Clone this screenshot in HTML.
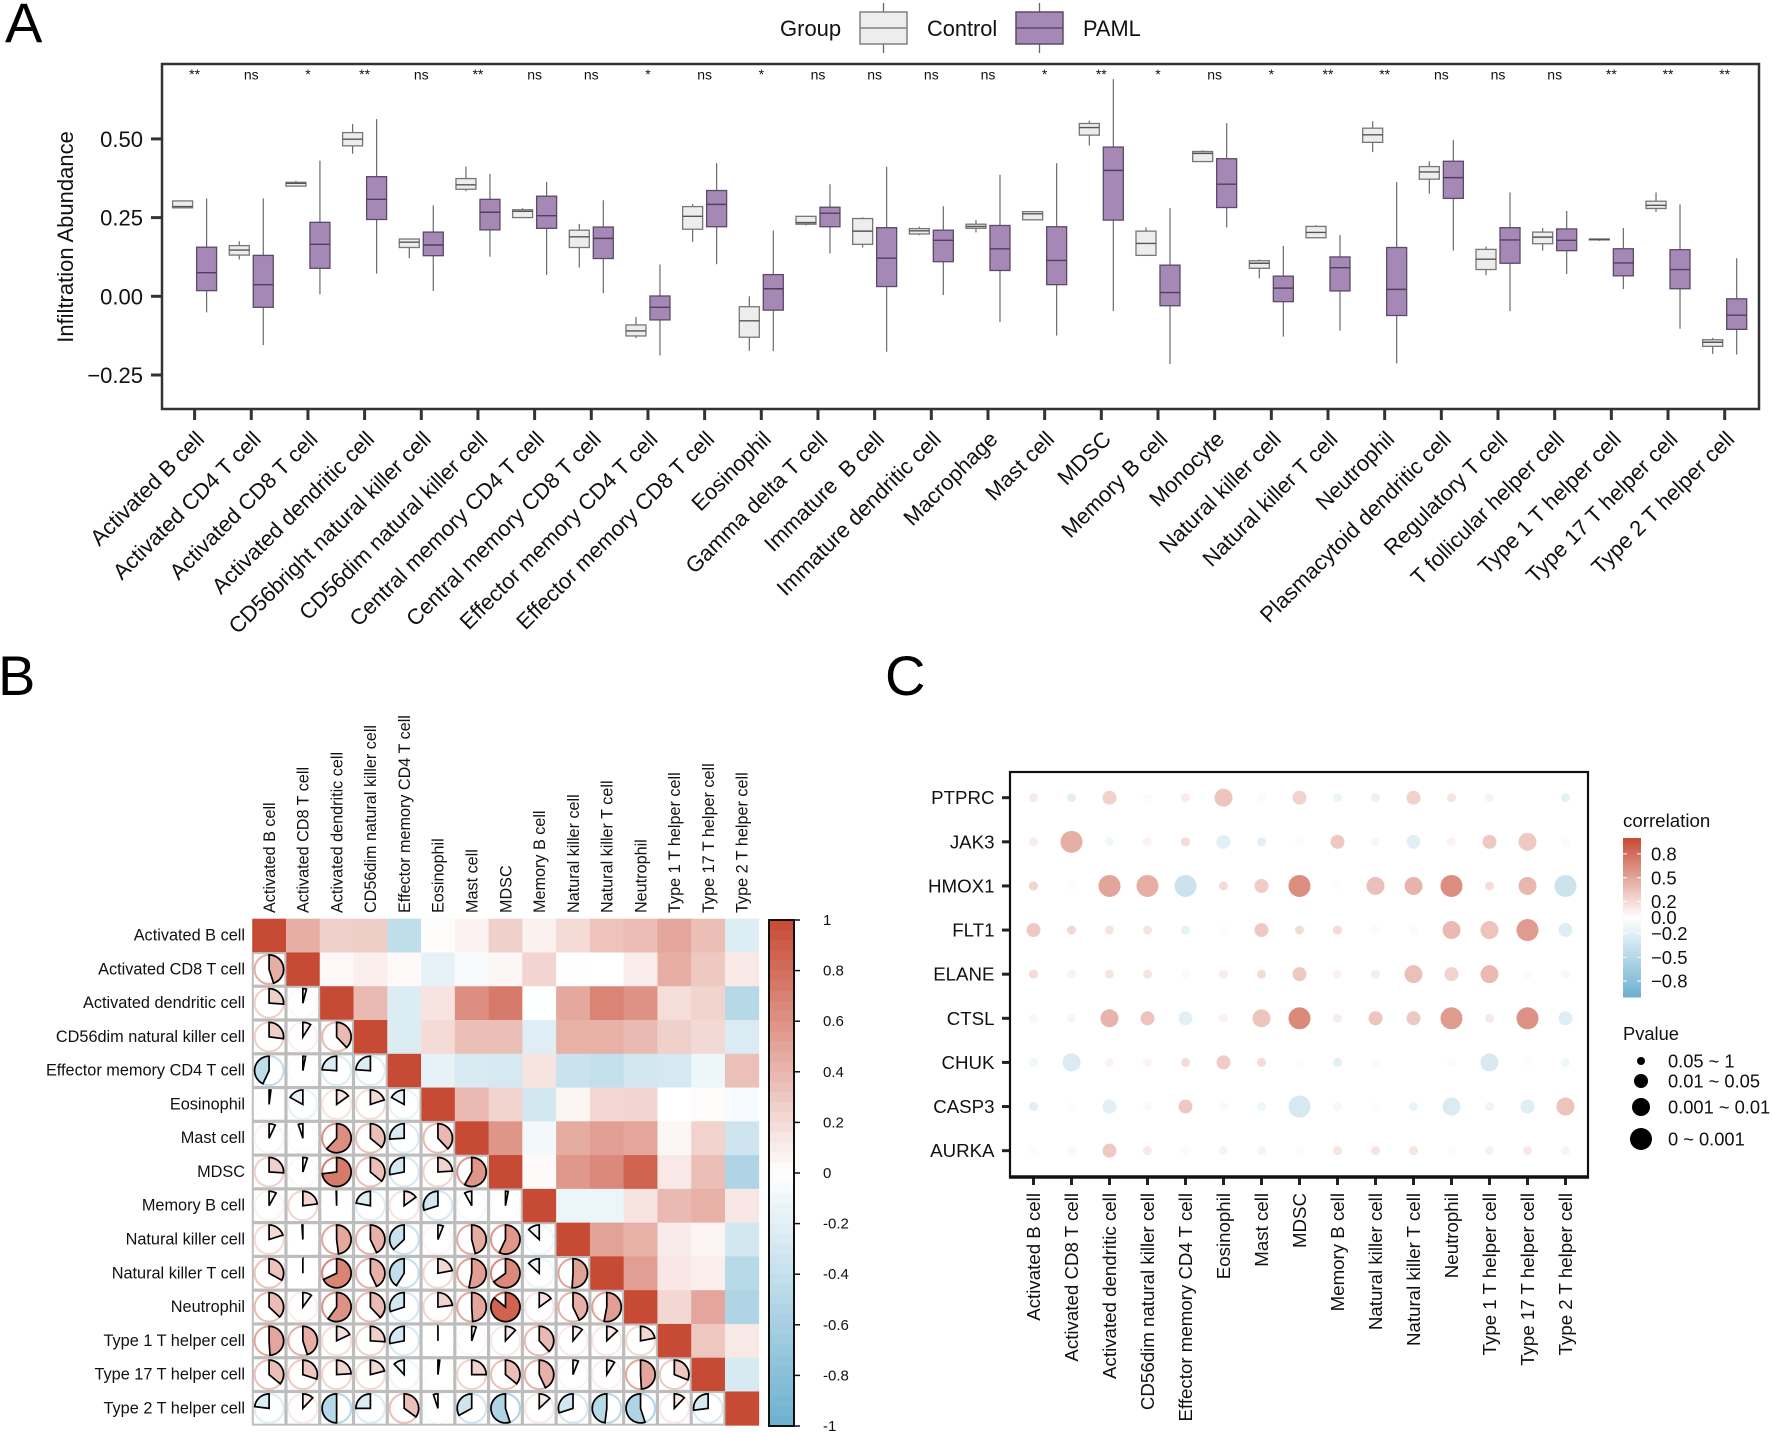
<!DOCTYPE html>
<html lang="en">
<head>
<meta charset="utf-8">
<title>Immune infiltration figure</title>
<style>
html,body{margin:0;padding:0;background:#fff;}
svg{display:block;font-family:"Liberation Sans",Arial,sans-serif;}
</style>
</head>
<body>
<svg id="fig" xmlns="http://www.w3.org/2000/svg" width="1772" height="1434" viewBox="0 0 1772 1434"></svg>
<script>
/* ---------- Panel A data ---------- */
const cellTypes = ["Activated B cell","Activated CD4 T cell","Activated CD8 T cell","Activated dendritic cell","CD56bright natural killer cell","CD56dim natural killer cell","Central memory CD4 T cell","Central memory CD8 T cell","Effector memory CD4 T cell","Effector memory CD8 T cell","Eosinophil","Gamma delta T cell","Immature\u00A0 B cell","Immature dendritic cell","Macrophage","Mast cell","MDSC","Memory B cell","Monocyte","Natural killer cell","Natural killer T cell","Neutrophil","Plasmacytoid dendritic cell","Regulatory T cell","T follicular helper cell","Type 1 T helper cell","Type 17 T helper cell","Type 2 T helper cell"];
const significance = ["**","ns","*","**","ns","**","ns","ns","*","ns","*","ns","ns","ns","ns","*","**","*","ns","*","**","**","ns","ns","ns","**","**","**"];
/* each entry: upper whisker, q3, median, q1, lower whisker */
const controlBoxes = [
[.303,.303,.285,.281,.281],[.175,.161,.147,.131,.117],[.367,.362,.359,.350,.350],[.547,.520,.499,.478,.453],
[.183,.182,.172,.155,.121],[.412,.374,.354,.340,.334],[.280,.275,.270,.250,.250],[.230,.210,.189,.155,.091],
[-.066,-.091,-.110,-.126,-.133],[.293,.285,.254,.213,.173],[0,-.033,-.078,-.130,-.173],[.254,.254,.234,.229,.225],
[.251,.247,.207,.165,.155],[.221,.215,.208,.198,.194],[.242,.229,.222,.216,.203],[.271,.269,.262,.243,.243],
[.558,.549,.536,.512,.479],[.219,.207,.168,.130,.128],[.464,.460,.454,.428,.428],[.117,.113,.105,.089,.057],
[.226,.222,.203,.186,.186],[.556,.534,.513,.489,.458],[.429,.412,.395,.372,.326],[.158,.149,.118,.085,.067],
[.217,.204,.188,.167,.145],[.184,.182,.181,.179,.176],[.330,.302,.289,.279,.268],[-.132,-.138,-.146,-.159,-.183]];
const pamlBoxes = [
[.311,.156,.075,.018,-.051],[.311,.130,.037,-.035,-.155],[.431,.235,.165,.089,.006],[.563,.380,.308,.244,.072],
[.289,.204,.163,.129,.017],[.389,.308,.267,.211,.126],[.363,.318,.256,.216,.068],[.305,.220,.184,.120,.010],
[.101,.001,-.035,-.075,-.188],[.423,.336,.292,.221,.102],[.209,.069,.024,-.044,-.174],[.356,.283,.264,.221,.136],
[.411,.218,.121,.031,-.176],[.286,.210,.178,.110,.004],[.386,.225,.151,.082,-.082],[.423,.221,.114,.037,-.125],
[.690,.474,.400,.242,-.047],[.280,.099,.012,-.030,-.215],[.550,.437,.356,.282,.219],[.160,.064,.026,-.017,-.128],
[.195,.125,.091,.017,-.109],[.363,.155,.022,-.061,-.213],[.496,.429,.377,.311,.145],[.330,.218,.179,.105,-.047],
[.271,.214,.178,.145,.071],[.217,.151,.106,.065,.023],[.292,.148,.085,.024,-.103],[.121,-.008,-.060,-.105,-.185]];
const yTicksA = [0.5,0.25,0,-0.25];
const yTickLabelsA = ["0.50","0.25","0.00","\u22120.25"];

/* ---------- Panel B data ---------- */
const corrLabels = ["Activated B cell","Activated CD8 T cell","Activated dendritic cell","CD56dim natural killer cell","Effector memory CD4 T cell","Eosinophil","Mast cell","MDSC","Memory B cell","Natural killer cell","Natural killer T cell","Neutrophil","Type 1 T helper cell","Type 17 T helper cell","Type 2 T helper cell"];
/* lower triangle of correlation matrix, row by row */
const corrLower = [
[],
[.45],
[.26,.04],
[.27,.09,.38],
[-.43,.03,-.24,-.24],
[.02,-.17,.15,.2,-.17],
[.07,-.05,.62,.36,-.26,.38],
[.26,.05,.73,.36,-.28,.24,.58],
[.08,.23,-.005,-.22,.15,-.3,-.08,.03],
[.2,-.01,.48,.43,-.37,.06,.46,.57,-.13],
[.33,0,.68,.43,-.41,.22,.53,.65,-.13,.51],
[.37,.1,.6,.38,-.3,.23,.49,.86,.15,.43,.53],
[.49,.45,.18,.26,-.28,0,.05,.12,.38,.11,.13,.22],
[.36,.3,.24,.21,-.12,.02,.25,.36,.43,.06,.09,.49,.31],
[-.23,.12,-.5,-.25,.35,-.05,-.33,-.55,.13,-.3,-.48,-.55,.12,-.27]];
const colorbarTicksB = [1,.8,.6,.4,.2,0,-.2,-.4,-.6,-.8,-1];
const colorbarLabelsB = ["1","0.8","0.6","0.4","0.2","0","-0.2","-0.4","-0.6","-0.8","-1"];

/* ---------- Panel C data ---------- */
const genes = ["PTPRC","JAK3","HMOX1","FLT1","ELANE","CTSL","CHUK","CASP3","AURKA"];
const geneCorr = [
[.12,-.2,.25,-.04,.1,.32,.03,.25,-.13,.1,.25,.15,-.1,0,-.18],
[.1,.45,-.1,.08,.2,-.2,-.2,.02,.3,-.08,-.2,.08,.3,.3,.03],
[.25,-.03,.5,.45,-.35,.2,.28,.62,-.03,.35,.42,.62,.18,.4,-.35],
[.3,.22,.15,.15,-.17,.01,.3,.2,.2,.03,.03,.38,.33,.55,-.22],
[.2,.07,.15,.15,-.04,.1,.2,.3,.08,.1,.35,.25,.38,-.04,-.07],
[.05,.06,.42,.33,-.2,.08,.32,.65,.1,.32,.3,.55,.13,.6,-.22],
[-.1,-.25,.07,.06,.2,.28,.2,.01,-.2,.03,0,-.04,-.27,-.02,-.1],
[-.2,-.02,-.2,-.06,.3,-.05,-.12,-.28,-.08,-.03,-.14,-.25,-.13,-.22,.33],
[.02,-.06,.3,.12,-.04,-.1,.08,.02,.15,.15,.15,.02,-.13,.13,-.1]];
/* p-value class: 0 = 0.05~1, 1 = 0.01~0.05, 2 = 0.001~0.01, 3 = 0~0.001 */
const genePClass = [
[0,0,1,0,0,2,0,1,0,0,1,0,0,0,0],
[0,3,0,0,0,1,0,0,1,0,1,0,1,2,0],
[0,0,3,3,3,0,1,3,0,2,2,3,0,2,3],
[1,0,0,0,0,0,1,0,0,0,0,2,2,3,1],
[0,0,0,0,0,0,0,1,0,0,2,1,2,0,0],
[0,0,2,1,1,0,2,3,0,1,1,3,0,3,1],
[0,2,0,0,0,1,0,0,0,0,0,0,2,0,0],
[0,0,1,0,1,0,0,3,0,0,0,2,0,1,2],
[0,0,1,0,0,0,0,0,0,0,0,0,0,0,0]];
const pLegendLabels = ["0.05 ~ 1","0.01 ~ 0.05","0.001 ~ 0.01","0 ~ 0.001"];
const pClassDiameters = [9,14,18,22];
const pLegendDiameters = [8,14,18,22];
const colorbarTicksC = [.8,.5,.2,0,-.2,-.5,-.8];
const colorbarLabelsC = ["0.8","0.5","0.2","0.0","\u22120.2","\u22120.5","\u22120.8"];

/* ---------- helpers ---------- */
const svg = document.getElementById('fig');
const NS = 'http://www.w3.org/2000/svg';
function mk(tag, attrs, parent){
  const e = document.createElementNS(NS, tag);
  for (const k in attrs) e.setAttribute(k, attrs[k]);
  (parent || svg).appendChild(e);
  return e;
}
function txt(str, attrs, parent){
  const e = mk('text', attrs, parent);
  e.textContent = str;
  return e;
}
function mix(a,b,t){return a.map((v,i)=>Math.round(v+(b[i]-v)*t));}
function corrColor(r){
  const red=[199,74,52], blue=[108,176,207], white=[255,255,255];
  const c = r>=0 ? mix(white,red,Math.min(1,r)) : mix(white,blue,Math.min(1,-r));
  return 'rgb('+c.join(',')+')';
}

/* ---------- panel letters ---------- */
[["A",5,42,"panel-a-letter"],["B",-2,695,"panel-b-letter"],["C",885,695,"panel-c-letter"]].forEach(p=>{
  const el = txt(p[0],{x:p[1],y:p[2],'font-size':56,fill:'#000'});
  
  
});

/* ---------- Panel A ---------- */
const gA = mk('g',{});


const aL=162,aR=1759,aT=64,aB=409;
const yA = v => 296.3 - 314.8*v;
const xA = i => 194.6 + 56.67*i;

function drawBox(cx, s, fill, edge, medC, g, name){
  const w=20;
  const grp = mk('g',{},g);
  
  
  mk('line',{x1:cx,x2:cx,y1:yA(s[0]),y2:yA(s[4]),stroke:'#6a6a6a','stroke-width':1.2},grp);
  mk('rect',{x:cx-w/2,y:yA(s[1]),width:w,height:Math.max(.5,yA(s[3])-yA(s[1])),fill:fill,stroke:edge,'stroke-width':1.3},grp);
  mk('line',{x1:cx-w/2,x2:cx+w/2,y1:yA(s[2]),y2:yA(s[2]),stroke:medC,'stroke-width':1.4},grp);
}
cellTypes.forEach((c,i)=>{
  const x=xA(i);
  drawBox(x-12,controlBoxes[i],'#ededed','#777','#555',gA,'control-box');
  drawBox(x+12,pamlBoxes[i],'#a588b5','#5b4a68','#4f4059',gA,'paml-box');
  const sig = txt(significance[i],{x:x,y:significance[i]==='ns'?79.5:79,'font-size':14,'text-anchor':'middle',fill:'#111'},gA);
  
  
  const t = mk('line',{x1:x,x2:x,y1:aB,y2:aB+11,stroke:'#333','stroke-width':3},gA);
  
  
  const bx=x+11, by=440.5;
  const lab = txt(c,{x:bx,y:by,'font-size':22,'text-anchor':'end',fill:'#111',transform:'rotate(-45 '+bx+' '+by+')'},gA);
  
  
});
yTicksA.forEach((v,i)=>{
  const t = mk('line',{x1:aL-11,x2:aL,y1:yA(v),y2:yA(v),stroke:'#333','stroke-width':3},gA);
  
  
  const l = txt(yTickLabelsA[i],{x:143,y:yA(v)+8,'font-size':22,'text-anchor':'end',fill:'#111'},gA);
  
  
});
const frameA = mk('rect',{x:aL,y:aT,width:aR-aL,height:aB-aT,fill:'none',stroke:'#333','stroke-width':2.5},gA);


const ytA = txt('Infiltration Abundance',{x:73,y:237,'font-size':22,'text-anchor':'middle',fill:'#111',transform:'rotate(-90 73 237)'},gA);



/* legend A */
const legA = mk('g',{});


const legT = txt('Group',{x:780,y:36,'font-size':22,fill:'#111'},legA);


[[860,47,'#ededed','#808080','Control',927,'legend-entry-control'],[1016,47,'#a588b5','#5b4a68','PAML',1083,'legend-entry-paml']].forEach(k=>{
  const g = mk('g',{},legA);
  
  
  const cx=k[0]+k[1]/2;
  mk('line',{x1:cx,x2:cx,y1:3,y2:53,stroke:'#666','stroke-width':1.3},g);
  mk('rect',{x:k[0],y:12,width:k[1],height:32,fill:k[2],stroke:k[3],'stroke-width':1.5},g);
  mk('line',{x1:k[0],x2:k[0]+k[1],y1:28,y2:28,stroke:k[3],'stroke-width':1.5},g);
  txt(k[4],{x:k[5],y:36,'font-size':21.8,fill:'#111'},g);
});

/* ---------- Panel B ---------- */
const gB = mk('g',{});


const bL=252.2,bT=918.7,bC=33.77,nB=corrLabels.length;
const corrAt = (r,c)=> r===c?1 : (r>c?corrLower[r][c]:corrLower[c][r]);
/* heat cells */
for(let r=0;r<nB;r++){for(let c=r;c<nB;c++){
  const el = mk('rect',{x:bL+c*bC,y:bT+r*bC,width:bC+.4,height:bC+.4,fill:corrColor(corrAt(r,c))},gB);
  
  
}}
/* pies */
for(let r=1;r<nB;r++){for(let c=0;c<r;c++){
  const v=corrAt(r,c), col=corrColor(v);
  const x=bL+c*bC,y=bT+r*bC,cx=x+bC/2,cy=y+bC/2,R=14.5;
  const cell = mk('rect',{x:x+.6,y:y+.6,width:bC-1.2,height:bC-1.2,fill:'#fff',stroke:'#bdbdbd','stroke-width':2},gB);
  
  
  mk('circle',{cx:cx,cy:cy,r:R,fill:'none',stroke:col,'stroke-width':2},gB);
  const f=Math.abs(v), ang=f*2*Math.PI*(v>=0?1:-1);
  const ex=cx+R*Math.sin(ang), ey=cy-R*Math.cos(ang);
  const d='M'+cx+' '+cy+'L'+cx+' '+(cy-R)+'A'+R+' '+R+' 0 '+(f>.5?1:0)+' '+(v>=0?1:0)+' '+ex.toFixed(2)+' '+ey.toFixed(2)+'Z';
  const pie = mk('path',{d:d,fill:col,stroke:'#000','stroke-width':1.7,'stroke-linejoin':'miter'},gB);
  
  
}}
corrLabels.forEach((n,i)=>{
  const rl = txt(n,{x:245,y:bT+i*bC+bC/2+5,'font-size':16.3,'text-anchor':'end',fill:'#111'},gB);
  
  
  const tx=bL+i*bC+bC/2+5.8, ty=913;
  const cl = txt(n,{x:tx,y:ty,'font-size':16.2,fill:'#111',transform:'rotate(-90 '+tx+' '+ty+')'},gB);
  
  
});
/* colorbar B */
const cbB = mk('g',{},gB);


const cbT=920,cbH=506,cbSteps=50;
for(let i=0;i<cbSteps;i++){
  const v=1-(i+.5)/cbSteps*2;
  mk('rect',{x:769,y:cbT+i*cbH/cbSteps,width:25,height:cbH/cbSteps+.5,fill:corrColor(v)},cbB);
}
mk('rect',{x:769,y:cbT,width:25,height:cbH,fill:'none',stroke:'#111','stroke-width':2},cbB);
colorbarTicksB.forEach((v,i)=>{
  const y=cbT+(1-v)/2*cbH;
  mk('line',{x1:794,x2:800,y1:y,y2:y,stroke:'#111','stroke-width':1.5},cbB);
  const l = txt(colorbarLabelsB[i],{x:823,y:y+5,'font-size':15,fill:'#111'},cbB);
  
  
});

/* ---------- Panel C ---------- */
const gC = mk('g',{});


const cL=1010,cR=1588,cT=772,cB=1177;
const xC = i => 1033.5 + 38.0*i;
const yC = i => 797.7 + 44.12*i;
genes.forEach((g,r)=>{
  corrLabels.forEach((n,c)=>{
    const dot = mk('circle',{cx:xC(c),cy:yC(r),r:pClassDiameters[genePClass[r][c]]/2,fill:corrColor(geneCorr[r][c])},gC);
    
    
  });
  const t = mk('line',{x1:cL-8,x2:cL,y1:yC(r),y2:yC(r),stroke:'#222','stroke-width':3},gC);
  
  
  const l = txt(g,{x:994.5,y:yC(r)+6.5,'font-size':18.7,'text-anchor':'end',fill:'#111'},gC);
  
  
});
corrLabels.forEach((n,c)=>{
  const t = mk('line',{x1:xC(c),x2:xC(c),y1:cB,y2:cB+8,stroke:'#222','stroke-width':3},gC);
  
  
  const tx=xC(c)+6.5, ty=1193;
  const l = txt(n,{x:tx,y:ty,'font-size':18.7,'text-anchor':'end',fill:'#111',transform:'rotate(-90 '+tx+' '+ty+')'},gC);
  
  
});
const frameC = mk('rect',{x:cL,y:cT,width:cR-cL,height:cB-cT,fill:'none',stroke:'#111','stroke-width':2.2},gC);


mk('line',{x1:cL-1,x2:cR+1,y1:cB,y2:cB,stroke:'#111','stroke-width':3.5},gC);

/* colorbar C */
const cbC = mk('g',{},gC);


const ctT=838,ctH=159,ctSteps=60;
for(let i=0;i<ctSteps;i++){
  const v=1-(i+.5)/ctSteps*2;
  mk('rect',{x:1623,y:ctT+i*ctH/ctSteps,width:18,height:ctH/ctSteps+.5,fill:corrColor(v)},cbC);
}
colorbarTicksC.forEach((v,i)=>{
  const y=ctT+(1-v)/2*ctH;
  mk('line',{x1:1623,x2:1627,y1:y,y2:y,stroke:'#fff','stroke-width':1},cbC);
  mk('line',{x1:1637,x2:1641,y1:y,y2:y,stroke:'#fff','stroke-width':1},cbC);
  txt(colorbarLabelsC[i],{x:1651,y:y+6.5,'font-size':18.5,fill:'#111'},cbC);
});
txt('correlation',{x:1623,y:827,'font-size':18.7,fill:'#111'},cbC);

const pLeg = mk('g',{},gC);


txt('Pvalue',{x:1623,y:1040,'font-size':18.3,fill:'#111'},pLeg);
const pLegYs = [1061,1081,1107,1139];
pLegendLabels.forEach((s,i)=>{
  mk('circle',{cx:1641,cy:pLegYs[i],r:pLegendDiameters[i]/2,fill:'#000'},pLeg);
  txt(s,{x:1668,y:pLegYs[i]+6.5,'font-size':18.3,fill:'#111'},pLeg);
});
</script>
</body>
</html>
